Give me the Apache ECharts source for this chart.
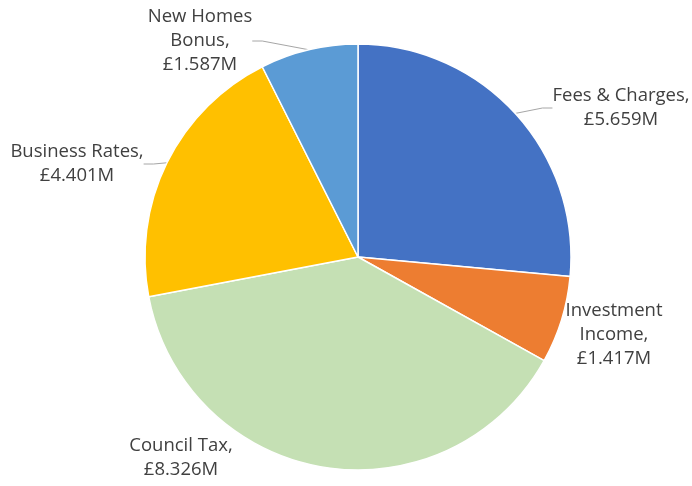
<!DOCTYPE html>
<html>
<head>
<meta charset="utf-8">
<script src="https://cdn.jsdelivr.net/npm/echarts@6/dist/echarts.min.js"></script>
<style>
  html, body { margin: 0; padding: 0; background: #fff; }
  #chart { width: 692px; height: 486px; }
</style>
</head>
<body>
<div id="chart"></div>
<script>
var names = ['Fees & Charges', 'Investment Income', 'Council Tax', 'Business Rates', 'New Homes Bonus'];
var values = [5.659, 1.417, 8.326, 4.401, 1.587];
var labelTexts = ['Fees & Charges,\n£5.659M', 'Investment\nIncome,\n£1.417M', 'Council Tax,\n£8.326M', 'Business Rates,\n£4.401M', 'New Homes\nBonus,\n£1.587M'];
var colors = ['#4472C4', '#ED7D31', '#C5E0B4', '#FFC000', '#5B9BD5'];
var showLines = [true, false, false, true, true];

// where each label block sits (centre of the text)
var labelSpots = [[621, 108], [614, 335], [181, 458], [77, 164], [200, 41]];

var data = names.map(function (n, i) {
    return {
        name: n,
        value: values[i],
        itemStyle: { color: colors[i] },
        label: { formatter: labelTexts[i] },
        labelLine: { show: showLines[i] }
    };
});

var chart = echarts.init(document.getElementById('chart'));
chart.setOption({
    backgroundColor: '#ffffff',
    animation: false,
    series: [{
        type: 'pie',
        center: [358, 257],
        radius: 213,
        startAngle: 90,
        clockwise: true,
        avoidLabelOverlap: false,
        itemStyle: { borderColor: '#ffffff', borderWidth: 1.5 },
        label: {
            show: true,
            position: 'outside',
            color: '#404040',
            fontFamily: 'Open Sans',
            fontSize: 18.5,
            lineHeight: 24,
            align: 'center'
        },
        labelLine: {
            length: 10,
            length2: 10,
            lineStyle: { color: '#A6A6A6', width: 1 }
        },
        labelLayout: function (params) {
            var p = labelSpots[params.dataIndex];
            return { x: p[0], y: p[1], align: 'center', verticalAlign: 'middle' };
        },
        data: data
    }]
});
</script>
</body>
</html>
